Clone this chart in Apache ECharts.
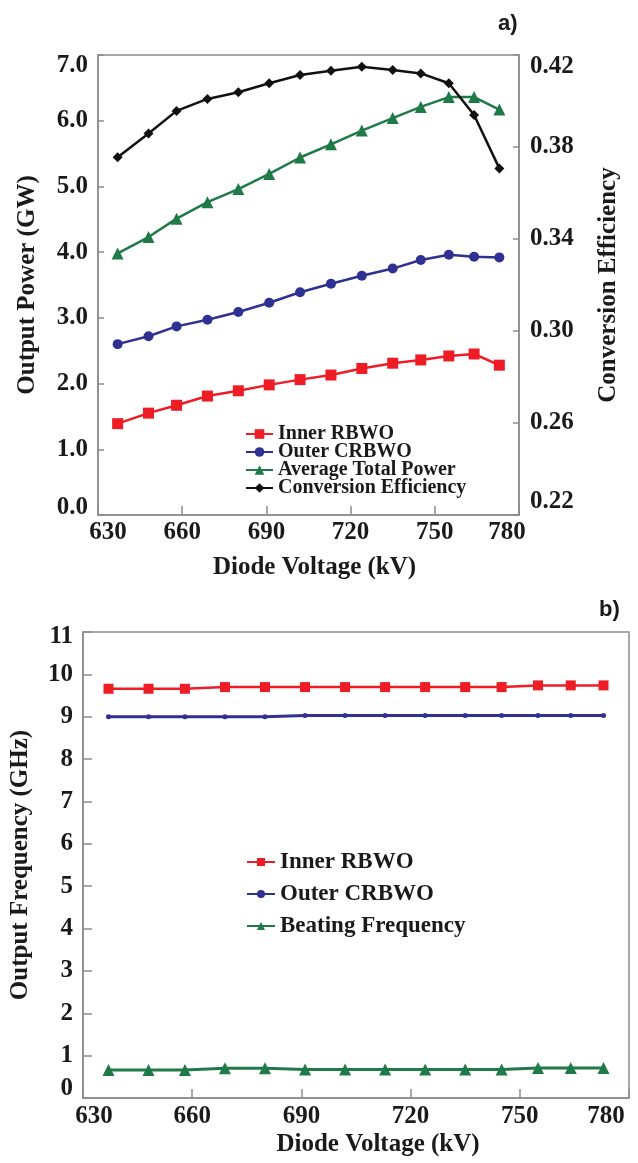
<!DOCTYPE html>
<html>
<head>
<meta charset="utf-8">
<script src="https://cdn.jsdelivr.net/npm/echarts@6/dist/echarts.min.js"></script>
<style>
  html, body { margin: 0; padding: 0; background: #ffffff; }
  #chart { width: 638px; height: 1163px; }
</style>
</head>
<body>
<div id="chart"></div>
<script>
// Diode voltage sweep (kV)
const voltage = [637, 648, 658, 669, 680, 691, 702, 713, 724, 735, 745, 755, 764, 773];

// a) output power (GW) and conversion efficiency
const innerPower = [1.39, 1.55, 1.67, 1.81, 1.89, 1.98, 2.06, 2.13, 2.23, 2.31, 2.36, 2.42, 2.45, 2.28];
const outerPower = [2.60, 2.72, 2.87, 2.97, 3.09, 3.23, 3.39, 3.52, 3.64, 3.75, 3.88, 3.96, 3.93, 3.92];
const totalPower = [3.98, 4.23, 4.51, 4.76, 4.96, 5.19, 5.44, 5.64, 5.85, 6.04, 6.21, 6.36, 6.36, 6.17];
const efficiency = [0.3755, 0.3859, 0.3957, 0.4009, 0.4038, 0.4077, 0.4113, 0.4132, 0.4149, 0.4135, 0.4120, 0.4077, 0.3939, 0.3707];

// b) output frequency (GHz)
const innerFreq = [9.66, 9.66, 9.66, 9.70, 9.70, 9.70, 9.70, 9.70, 9.70, 9.70, 9.70, 9.74, 9.74, 9.74];
const outerFreq = [9.00, 9.00, 9.00, 9.00, 9.00, 9.03, 9.03, 9.03, 9.03, 9.03, 9.03, 9.03, 9.03, 9.03];
const beatFreq  = [0.66, 0.66, 0.66, 0.70, 0.70, 0.67, 0.67, 0.67, 0.67, 0.67, 0.67, 0.71, 0.71, 0.71];

// Axis ranges / tick steps
const voltageTicks = { min: 630, max: 780, step: 30 };
const powerTicks = { min: 0, max: 7, step: 1 };
const effTicks = { min: 0.22, max: 0.42, step: 0.04 };
const freqTicks = { min: 0, max: 11, step: 1 };

const SERIF = '"Liberation Serif", "Times New Roman", Times, serif';
const INK = '#1a1a1a';
const AXIS_GRAY = '#8c8c8c';
const RED = '#ee1d25';
const BLUE = '#2e3192';
const GREEN = '#1f7a48';
const BLACK = '#111111';

const pairs = (ys) => voltage.map((v, i) => [v, ys[i]]);

// Tick label style; the end labels are nudged inward with rich padding
function tickLabel(size, margin, fmt, lo, hi, loPad, hiPad) {
  const base = { fontFamily: SERIF, fontWeight: 'bold', fontSize: size, color: INK };
  return {
    margin: margin,
    fontFamily: SERIF, fontWeight: 'bold', fontSize: size, color: INK,
    formatter: (v) => {
      const s = fmt(v);
      if (Math.abs(v - lo) < 1e-9) return '{lo|' + s + '}';
      if (Math.abs(v - hi) < 1e-9) return '{hi|' + s + '}';
      return '{n|' + s + '}';
    },
    rich: {
      n: base,
      lo: Object.assign({ padding: loPad }, base),
      hi: Object.assign({ padding: hiPad }, base)
    }
  };
}

function nameStyle(size, pad) {
  return { fontFamily: SERIF, fontWeight: 'bold', fontSize: size, color: INK, padding: pad || 0 };
}

const axisLine = { show: true, lineStyle: { color: AXIS_GRAY, width: 1.5 } };
const insideTick = (len) => ({ show: true, inside: true, length: len, lineStyle: { color: AXIS_GRAY, width: 1.5 } });

const option = {
  backgroundColor: '#ffffff',
  animation: false,
  title: [
    { text: 'a)', left: 493, top: 8, textStyle: { fontFamily: '"Liberation Sans", Arial, sans-serif', fontWeight: 'bold', fontSize: 22, color: INK } },
    { text: 'b)', left: 594, top: 594, textStyle: { fontFamily: '"Liberation Sans", Arial, sans-serif', fontWeight: 'bold', fontSize: 22, color: INK } }
  ],
  grid: [
    { left: 98, top: 55, width: 421, height: 460, show: true, borderColor: AXIS_GRAY, borderWidth: 1.5, backgroundColor: 'transparent' },
    { left: 83, top: 632, width: 546, height: 466, show: true, borderColor: AXIS_GRAY, borderWidth: 1.5, backgroundColor: 'transparent' }
  ],
  legend: [
    {
      data: ['Inner RBWO', 'Outer CRBWO', 'Average Total Power', 'Conversion Efficiency'],
      orient: 'vertical', left: 240, top: 419, itemGap: -2, itemWidth: 27, itemHeight: 12,
      textStyle: { fontFamily: SERIF, fontWeight: 'bold', fontSize: 20, lineHeight: 16, color: INK }
    },
    {
      data: ['Inner RBWO ', 'Outer CRBWO ', 'Beating Frequency'],
      orient: 'vertical', left: 241, top: 845, itemGap: 8, itemWidth: 28, itemHeight: 10,
      textStyle: { fontFamily: SERIF, fontWeight: 'bold', fontSize: 23, lineHeight: 24, color: INK }
    }
  ],
  xAxis: [
    {
      type: 'value', gridIndex: 0,
      min: voltageTicks.min, max: voltageTicks.max, interval: voltageTicks.step,
      axisLine: axisLine, axisTick: insideTick(9), splitLine: { show: false },
      axisLabel: tickLabel(25, 5, (v) => String(v), voltageTicks.min, voltageTicks.max, [0, 0, 0, 20], [0, 24, 0, 0]),
      name: 'Diode Voltage (kV)', nameLocation: 'middle', nameGap: 40,
      nameTextStyle: nameStyle(25, [0, 0, 0, 12])
    },
    {
      type: 'value', gridIndex: 1,
      min: voltageTicks.min, max: voltageTicks.max, interval: voltageTicks.step,
      axisLine: axisLine, axisTick: insideTick(9), splitLine: { show: false },
      axisLabel: tickLabel(25, 6, (v) => String(v), voltageTicks.min, voltageTicks.max, [0, 0, 0, 22], [0, 46, 0, 0]),
      name: 'Diode Voltage (kV)', nameLocation: 'middle', nameGap: 34,
      nameTextStyle: nameStyle(25, [0, 0, 0, 44])
    }
  ],
  yAxis: [
    {
      type: 'value', gridIndex: 0, position: 'left',
      min: powerTicks.min, max: powerTicks.max, interval: powerTicks.step,
      axisLine: axisLine, axisTick: insideTick(6), splitLine: { show: false },
      axisLabel: tickLabel(25, 10, (v) => v.toFixed(1), powerTicks.min, powerTicks.max, [0, 0, 14, 0], [22, 0, 0, 0]),
      name: 'Output Power (GW)', nameLocation: 'middle', nameGap: 58,
      nameTextStyle: nameStyle(25)
    },
    {
      type: 'value', gridIndex: 0, position: 'right',
      min: effTicks.min, max: effTicks.max, interval: effTicks.step,
      axisLine: axisLine, axisTick: insideTick(6), splitLine: { show: false },
      axisLabel: tickLabel(25, 11, (v) => v.toFixed(2), effTicks.min, effTicks.max, [0, 0, 26, 0], [24, 0, 0, 0]),
      name: 'Conversion Efficiency', nameLocation: 'middle', nameGap: 77,
      nameTextStyle: nameStyle(25)
    },
    {
      type: 'value', gridIndex: 1, position: 'left',
      min: freqTicks.min, max: freqTicks.max, interval: freqTicks.step,
      axisLine: axisLine, axisTick: insideTick(9), splitLine: { show: false },
      axisLabel: tickLabel(25, 10, (v) => String(v), freqTicks.min, freqTicks.max, [0, 0, 18, 0], [10, 0, 0, 0]),
      name: 'Output Frequency (GHz)', nameLocation: 'middle', nameGap: 50,
      nameTextStyle: nameStyle(25)
    }
  ],
  series: [
    {
      name: 'Inner RBWO', type: 'line', xAxisIndex: 0, yAxisIndex: 0, data: pairs(innerPower),
      symbol: 'rect', symbolSize: 11, color: RED, lineStyle: { width: 2.5, color: RED }, itemStyle: { color: RED }
    },
    {
      name: 'Outer CRBWO', type: 'line', xAxisIndex: 0, yAxisIndex: 0, data: pairs(outerPower),
      symbol: 'circle', symbolSize: 10, color: BLUE, lineStyle: { width: 2.5, color: BLUE }, itemStyle: { color: BLUE }
    },
    {
      name: 'Average Total Power', type: 'line', xAxisIndex: 0, yAxisIndex: 0, data: pairs(totalPower),
      symbol: 'triangle', symbolSize: 12, color: GREEN, lineStyle: { width: 2.5, color: GREEN }, itemStyle: { color: GREEN }
    },
    {
      name: 'Conversion Efficiency', type: 'line', xAxisIndex: 0, yAxisIndex: 1, data: pairs(efficiency),
      symbol: 'diamond', symbolSize: 10, color: BLACK, lineStyle: { width: 2.5, color: BLACK }, itemStyle: { color: BLACK }
    },
    {
      name: 'Inner RBWO ', type: 'line', xAxisIndex: 1, yAxisIndex: 2, data: pairs(innerFreq),
      symbol: 'rect', symbolSize: 10, color: RED, lineStyle: { width: 2.5, color: RED }, itemStyle: { color: RED }
    },
    {
      name: 'Outer CRBWO ', type: 'line', xAxisIndex: 1, yAxisIndex: 2, data: pairs(outerFreq),
      symbol: 'circle', symbolSize: 5, color: BLUE, lineStyle: { width: 3, color: BLUE }, itemStyle: { color: BLUE }
    },
    {
      name: 'Beating Frequency', type: 'line', xAxisIndex: 1, yAxisIndex: 2, data: pairs(beatFreq),
      symbol: 'triangle', symbolSize: 12, color: GREEN, lineStyle: { width: 3, color: GREEN }, itemStyle: { color: GREEN }
    }
  ]
};

const chart = echarts.init(document.getElementById('chart'), null, { renderer: 'canvas' });
chart.setOption(option);
</script>
</body>
</html>
